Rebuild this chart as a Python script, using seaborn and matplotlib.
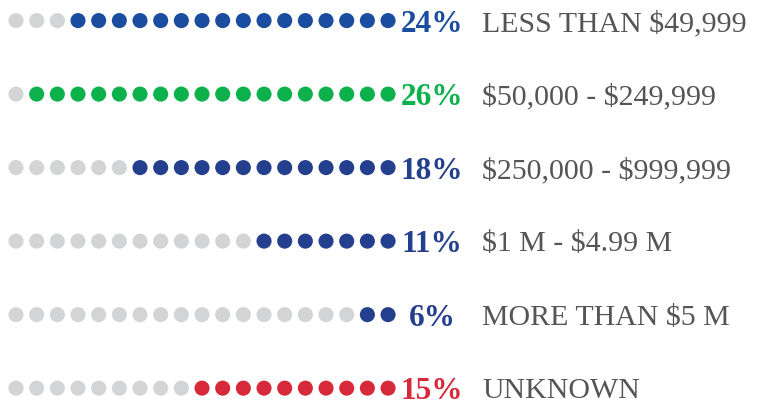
import numpy as np
import pandas as pd
import matplotlib.pyplot as plt
import seaborn as sns

# data
categories = ["LESS THAN $49,999", "$50,000 - $249,999", "$250,000 - $999,999",
              "$1 M - $4.99 M", "MORE THAN $5 M", "UNKNOWN"]
percents = [24, 26, 18, 11, 6, 15]
filled_dots = [16, 18, 13, 7, 2, 10]
total_dots = 19
row_colors = ["#1a4c9f", "#0db14b", "#243f8e", "#243f8e", "#243f8e", "#d62a3a"]
GREY = "#d3d4d6"

# long table of dots
rows = []
for r, (n, c) in enumerate(zip(filled_dots, row_colors)):
    for i in range(total_dots):
        rows.append({"row": r, "pos": i, "color": c if i >= total_dots - n else GREY})
df = pd.DataFrame(rows)

sns.set_theme(style="white")
plt.rcParams["font.family"] = ["Liberation Serif", "DejaVu Serif"]
plt.rcParams["text.parse_math"] = False

fig = plt.figure(figsize=(7.57, 4.08), dpi=100)
ax = fig.add_axes([0, 0, 1, 1])

palette = {c: c for c in df["color"].unique()}
sns.scatterplot(data=df, x="pos", y="row", hue="color", palette=palette,
                s=118, linewidth=0, legend=False, ax=ax)

for r, (cat, p, c) in enumerate(zip(categories, percents, row_colors)):
    ax.text(20.13, r, f"{p}%", color=c, fontsize=22.5, fontweight="bold",
            ha="center", va="center_baseline")
    ax.text(22.55, r, cat, color="#555555", fontsize=21.5, ha="left",
            va="center_baseline")

ax.set_xlim(-0.774, 35.85)
ax.set_ylim(5.27, -0.28)
ax.axis("off")

fig.savefig("out.png", dpi=100)
